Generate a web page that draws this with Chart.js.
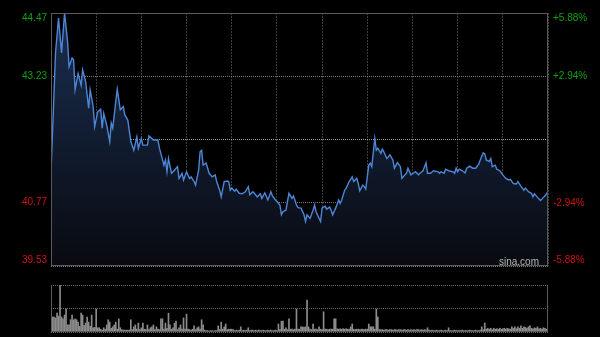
<!DOCTYPE html>
<html>
<head>
<meta charset="utf-8">
<script src="https://cdn.jsdelivr.net/npm/chart.js@4.4.1/dist/chart.umd.min.js"></script>
<style>
  html,body{margin:0;padding:0;background:#000;}
  #wrap{position:relative;width:600px;height:337px;overflow:hidden;background:#000;}
  #priceChart{position:absolute;left:0;top:0;}
  #volChart{position:absolute;left:0;top:270px;}
  #logo{position:absolute;left:499px;top:256px;font:10px "Liberation Sans",Arial,sans-serif;line-height:11px;color:#b4b4b4;}
</style>
</head>
<body>
<div id="wrap">
  <canvas id="priceChart" width="600" height="337"></canvas>
  <canvas id="volChart" width="600" height="67"></canvas>
  <div id="logo">sina.com</div>
</div>
<script>
// ====== data (minute index from open, 0..330) ======
const prevClose = 42.00;
const priceTicks = [39.53, 40.77, 42.00, 43.23, 44.47];
const pctTicks = [-5.88, -2.94, 0, 2.94, 5.88];

const minutes = [
  0,3,5,7,9,11,12,14,15,16,18,20,21,23,25,26,28,29,31,33,
  34,35,37,39,40,41,43,44,46,48,49,51,53,55,57,58,60,61,64,65,
  68,71,72,75,76,77,78,80,82,84,85,87,88,90,92,93,95,96,98,99,
  100,101,103,105,107,109,110,112,113,115,117,118,119,120,122,123,125,127,129,131,
  132,134,135,137,139,140,142,144,146,147,149,150,152,153,154,156,158,160,161,163,
  164,166,168,169,170,172,174,175,176,178,179,180,182,183,185,186,187,189,191,192,
  193,195,196,198,200,201,203,204,205,207,208,209,211,212,213,215,216,217,219,220,
  221,223,224,225,227,228,230,232,233,235,236,237,239,241,242,244,245,247,249,250,
  252,254,257,258,259,261,262,264,267,268,269,270,271,273,275,276,278,280,282,284,
  285,287,288,289,291,292,293,295,296,298,300,302,304,305,307,309,310,312,314,315,
  317,319,320,321,323,325,327,328,330
];
const prices = [
  41.35,43.69,44.37,43.69,44.47,43.91,43.42,43.59,43.55,42.97,43.29,43.06,43.36,43.13,42.61,42.97,42.64,42.25,42.54,42.59,
  42.22,42.51,42.28,41.96,42.32,42.22,42.74,42.98,42.58,42.64,42.48,42.38,41.96,41.79,42.05,41.83,42.02,41.89,41.89,42.07,
  41.99,41.99,41.83,41.50,41.60,41.37,41.63,41.34,41.40,41.47,41.24,41.34,41.21,41.37,41.24,41.27,41.18,41.11,41.40,41.76,
  41.79,41.50,41.54,41.34,41.27,41.31,41.18,41.01,40.88,41.18,41.19,41.18,41.01,41.05,40.99,41.03,40.95,40.94,40.98,41.08,
  40.92,40.98,40.95,40.88,40.94,40.85,40.96,40.82,40.98,40.90,40.82,40.79,40.72,40.53,40.59,40.62,40.95,40.85,40.90,40.72,
  40.67,40.66,40.53,40.40,40.53,40.46,40.62,40.72,40.59,40.46,40.40,40.66,40.70,40.64,40.68,40.62,40.53,40.66,40.82,40.75,
  40.82,41.01,41.05,41.18,41.27,41.18,41.24,41.14,41.00,41.11,41.08,41.03,41.50,41.54,41.47,42.02,41.79,41.83,41.73,41.81,
  41.76,41.63,41.66,41.70,41.60,41.44,41.55,41.47,41.24,41.31,41.34,41.44,41.31,41.35,41.37,41.31,41.34,41.39,41.54,41.34,
  41.34,41.39,41.37,41.34,41.37,41.34,41.42,41.39,41.37,41.34,41.44,41.37,41.42,41.39,41.35,41.44,41.48,41.44,41.44,41.52,
  41.60,41.74,41.72,41.60,41.57,41.63,41.47,41.50,41.42,41.39,41.31,41.24,41.21,41.22,41.14,41.13,41.18,41.09,41.01,41.05,
  40.98,40.95,40.88,40.94,40.87,40.81,40.87,40.90,40.98
];
// volume per minute, relative units (max = 100)
const volumes = [
  34,32,32,30,40,34,100,32,28,36,
  49,15,15,26,36,26,28,26,21,12,
  40,36,14,19,32,21,12,36,9,10,
  49,9,9,6,4,9,6,15,26,21,
  8,11,15,21,6,28,9,5,4,4,
  4,4,4,26,5,11,15,6,19,5,
  9,19,6,5,15,5,9,11,15,5,
  11,6,5,28,28,6,19,8,40,15,
  6,9,19,23,5,9,15,6,30,6,
  38,6,5,4,6,13,5,9,11,6,
  26,15,4,3,3,2,3,3,2,3,
  3,13,5,21,6,11,17,5,6,6,
  6,5,3,4,3,4,11,3,4,3,
  4,9,3,4,4,3,4,3,4,3,
  3,4,3,3,4,3,4,3,3,4,
  3,17,5,23,23,6,9,5,28,6,
  6,5,6,49,6,6,11,11,10,11,
  68,11,6,5,17,6,6,5,11,6,
  5,43,6,6,5,6,6,6,28,28,
  7,6,7,6,7,6,7,6,6,11,
  17,6,5,6,6,5,6,6,5,6,
  6,17,11,11,11,6,49,32,5,5,
  5,4,5,5,4,5,5,4,5,5,
  4,5,5,4,5,5,4,5,4,5,
  4,5,4,5,5,4,5,4,5,4,
  9,4,3,4,3,3,4,3,3,4,
  3,3,4,3,9,3,3,3,4,3,
  3,3,3,4,3,3,3,3,4,3,
  3,3,4,3,3,4,11,5,19,6,
  8,6,8,5,8,6,7,6,8,6,
  7,8,6,8,7,6,11,8,11,7,
  11,8,13,8,11,10,8,11,13,8,
  7,9,8,11,7,8,6,9,8,6,
  9
];

const GREEN = "#12a012", RED = "#d01212";
const FONT = { family: "'Liberation Sans', Arial, sans-serif", size: 10, lineHeight: 1.1 };

// first/last labels pushed inward like the original
function edgeLabel(text, i, n){
  if(i === n-1) return ["", text];
  if(i === 0) return [text, ""];
  return text;
}

// y axes: fixed width, no extra label padding above/below the plot
function fixAxis(w){
  return s=>{ s.width = w; s.paddingTop = 0; s.paddingBottom = 0; };
}

// plot frame
const framePlugin = {
  id: "frame",
  afterDraw(chart, args, opts){
    const a = chart.chartArea, ctx = chart.ctx;
    ctx.save();
    ctx.strokeStyle = "#5a5a5a";
    ctx.lineWidth = 1;
    ctx.beginPath();
    if(opts.top){ ctx.moveTo(a.left+0.5, a.top+0.5); ctx.lineTo(a.right-0.5, a.top+0.5); }
    ctx.moveTo(a.left+0.5, a.top); ctx.lineTo(a.left+0.5, a.bottom);
    ctx.moveTo(a.right-0.5, a.top); ctx.lineTo(a.right-0.5, a.bottom);
    ctx.moveTo(a.left, a.bottom-0.5); ctx.lineTo(a.right, a.bottom-0.5);
    ctx.stroke();
    ctx.restore();
  }
};

// =========== price chart ============
const priceChart = new Chart(document.getElementById("priceChart"), {
  type: "line",
  data: {
    datasets: [{
      data: minutes.map((m,i)=>({ x: m, y: prices[i] })),
      borderColor: "#4d86d6",
      borderWidth: 1.4,
      pointRadius: 0,
      tension: 0,
      fill: "start",
      backgroundColor: ctx=>{
        const a = ctx.chart.chartArea;
        if(!a) return "rgba(20,36,64,0.8)";
        const g = ctx.chart.ctx.createLinearGradient(0, a.top, 0, a.bottom);
        g.addColorStop(0, "#1a2e50");
        g.addColorStop(1, "#080a10");
        return g;
      }
    }]
  },
  options: {
    responsive: false,
    animation: false,
    layout: { padding: { top: 13, left: 0, right: 0, bottom: 0 } },
    plugins: { legend: { display: false }, tooltip: { enabled: false }, frame: { top: true } },
    scales: {
      x: {
        type: "linear", min: 0, max: 330,
        afterBuildTicks: s=>{ s.ticks = []; for(let m=0; m<=330; m+=30) s.ticks.push({ value: m }); },
        ticks: { display: false },
        grid: { color: "#3c3c3c", lineWidth: 1, drawTicks: false },
        border: { display: false, dash: [2,1] },
        afterFit: s=>{ s.height = 71; }
      },
      y: {
        position: "left", min: priceTicks[0], max: priceTicks[priceTicks.length-1],
        afterBuildTicks: s=>{ s.ticks = priceTicks.map(v=>({ value: v })); },
        ticks: {
          padding: 4,
          font: FONT,
          color: c=> c.tick.value > prevClose ? GREEN : RED,
          callback: (v,i)=> v === prevClose ? "" : edgeLabel(v.toFixed(2), i, priceTicks.length)
        },
        grid: {
          drawTicks: false,
          color: c=> c.tick.value === prevClose ? "#9a9a9a" : "#767676"
        },
        border: { display: false, dash: [1,1] },
        afterFit: fixAxis(51)
      },
      pct: {
        position: "right", min: pctTicks[0], max: pctTicks[pctTicks.length-1],
        afterBuildTicks: s=>{ s.ticks = pctTicks.map(v=>({ value: v })); },
        ticks: {
          padding: 5,
          font: FONT,
          color: c=> c.tick.value > 0 ? GREEN : RED,
          callback: (v,i)=> v === 0 ? "" : edgeLabel((v>0?"+":"") + v.toFixed(2) + "%", i, pctTicks.length)
        },
        grid: { drawOnChartArea: false, drawTicks: false },
        border: { display: false },
        afterFit: fixAxis(52)
      }
    }
  },
  plugins: [framePlugin]
});

// =========== volume chart ============
const volChart = new Chart(document.getElementById("volChart"), {
  type: "bar",
  data: {
    datasets: [{
      data: volumes.map((v,i)=>({ x: i, y: v })),
      backgroundColor: "#8c8c8c",
      barThickness: 1,
      borderWidth: 0
    }]
  },
  options: {
    responsive: false,
    animation: false,
    layout: { padding: { top: 15, left: 0, right: 52, bottom: 0 } },
    plugins: { legend: { display: false }, tooltip: { enabled: false }, frame: { top: false } },
    scales: {
      x: {
        type: "linear", min: 0, max: 330, offset: false,
        ticks: { display: false },
        grid: { display: false },
        border: { display: false },
        afterFit: s=>{ s.height = 5; }
      },
      y: {
        min: 0, max: 100,
        afterBuildTicks: s=>{ s.ticks = [{ value: 0 }, { value: 50 }, { value: 100 }]; },
        ticks: { display: false },
        grid: { drawTicks: false, color: "#6a6a6a" },
        border: { display: false, dash: [1,1] },
        afterFit: fixAxis(51)
      }
    }
  },
  plugins: [framePlugin]
});
</script>
</body>
</html>
